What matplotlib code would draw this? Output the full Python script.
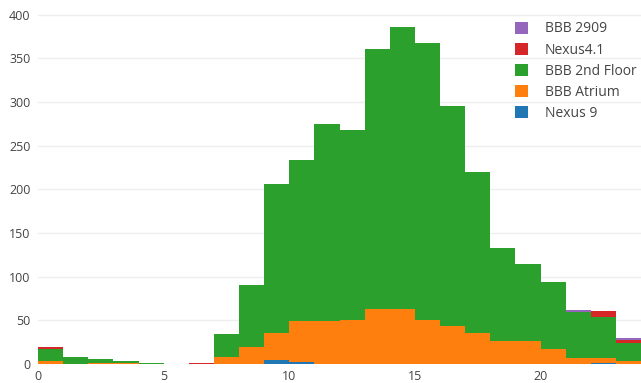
#!/usr/bin/env python3
import matplotlib
matplotlib.use("Agg")
import matplotlib.pyplot as plt
import numpy as np
from matplotlib.patches import Patch

# hour-of-day bins, counts per location (stacked bottom -> top)
HOURS = list(range(24))
NEXUS_9 = [0, 0, 0, 0, 0, 0, 0, 0, 0, 5, 2, 0, 0, 0, 0, 0, 0, 0, 0, 0, 0, 0, 1, 0]
BBB_ATRIUM = [3, 0, 1, 1, 0, 0, 0, 8, 19, 30, 47, 49, 50, 63, 63, 50, 44, 35, 26, 26, 17, 7, 6, 4]
BBB_2ND_FLOOR = [14, 8, 5, 2, 1, 0, 0, 26, 72, 171, 184, 226, 218, 298, 323, 318, 251, 185, 107, 88, 77, 52, 47, 20]
NEXUS_41 = [2, 0, 0, 0, 0, 0, 1, 0, 0, 0, 0, 0, 0, 0, 0, 0, 0, 0, 0, 0, 0, 0, 7, 4]
BBB_2909 = [0, 0, 0, 0, 0, 0, 0, 0, 0, 0, 0, 0, 0, 0, 0, 0, 0, 0, 0, 0, 0, 3, 0, 2]

SERIES = [
    ("Nexus 9", NEXUS_9, "#1f77b4"),
    ("BBB Atrium", BBB_ATRIUM, "#ff7f0e"),
    ("BBB 2nd Floor", BBB_2ND_FLOOR, "#2ca02c"),
    ("Nexus4.1", NEXUS_41, "#d62728"),
    ("BBB 2909", BBB_2909, "#9467bd"),
]

TEXT_COLOR = "#444444"
plt.rcParams["font.family"] = ["Open Sans", "DejaVu Sans"]

fig = plt.figure(figsize=(6.41, 3.83), dpi=100)
ax = fig.add_axes([38 / 641, 19 / 383, 1 - 38 / 641, (364 - 9.4) / 383])

bottom = np.zeros(len(HOURS))
for name, values, color in SERIES:
    values = np.array(values, dtype=float)
    ax.bar(HOURS, values, width=1.0, align="edge", bottom=bottom,
           color=color, linewidth=0, zorder=2)
    bottom += values

ax.set_xlim(0, 24)
ax.set_ylim(0, 406)
ax.set_xticks([0, 5, 10, 15, 20])
ax.set_yticks(range(0, 401, 50))
ax.grid(axis="y", color="#eeeeee", linewidth=1, zorder=0)
ax.set_axisbelow(True)
for spine in ax.spines.values():
    spine.set_visible(False)
ax.tick_params(length=0, labelsize=9, colors=TEXT_COLOR)
ax.tick_params(axis="y", pad=5.5)
ax.tick_params(axis="x", pad=4.5)

handles = [Patch(facecolor=c, edgecolor="none", label=n) for n, _, c in reversed(SERIES)]
leg = ax.legend(handles=handles, loc="upper left", bbox_to_anchor=(515 / 641, 1 - 21.5 / 383),
                bbox_transform=fig.transFigure, frameon=False, fontsize=10,
                handlelength=0.95, handleheight=0.95, handletextpad=1.2,
                labelspacing=0.44, borderaxespad=0, borderpad=0)
for text in leg.get_texts():
    text.set_color(TEXT_COLOR)

fig.savefig("out.png", dpi=100)
